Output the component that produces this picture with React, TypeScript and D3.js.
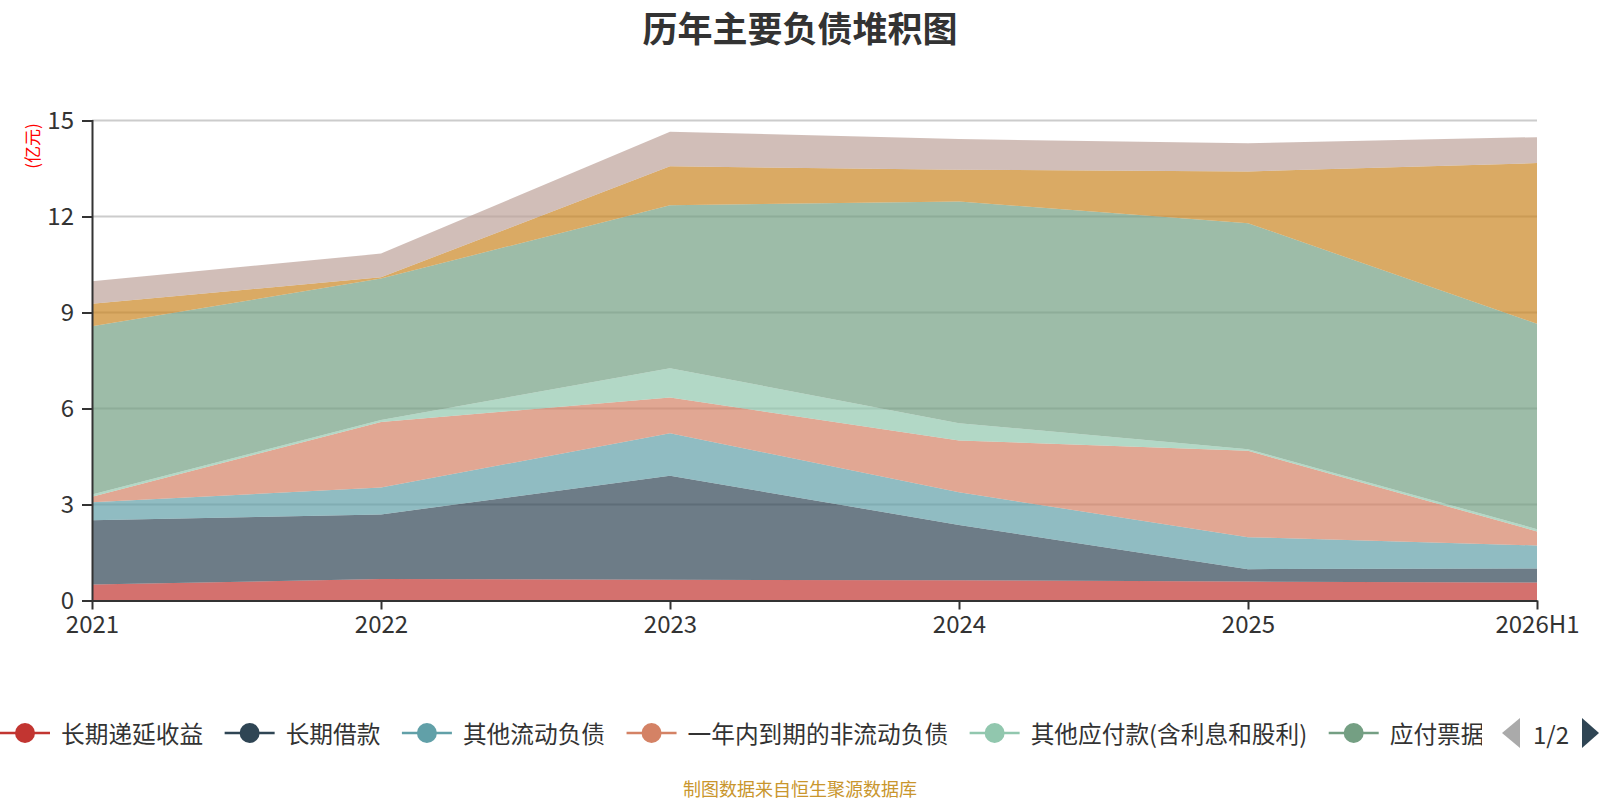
import * as d3 from 'd3';
import { useEffect, useRef } from 'react';

const years = ['2021', '2022', '2023', '2024', '2025', '2026H1'];

const seriesNames = [
    '长期递延收益',
    '长期借款',
    '其他流动负债',
    '一年内到期的非流动负债',
    '其他应付款(含利息和股利)',
    '应付票据及应付账款',
    '合同负债',
    '短期借款',
];

// 单位：亿元
const deferredIncome = [0.5, 0.67, 0.65, 0.63, 0.59, 0.56];
const longTermLoan = [2.01, 2.02, 3.25, 1.73, 0.39, 0.44];
const otherCurrent = [0.56, 0.84, 1.33, 1.02, 1.0, 0.72];
const dueWithinYear = [0.17, 2.05, 1.11, 1.62, 2.7, 0.44];
const otherPayables = [0.07, 0.06, 0.92, 0.54, 0.05, 0.07];
const notesPayable = [5.26, 4.42, 5.09, 6.93, 7.06, 6.42];
const contractLiab = [0.7, 0.04, 1.22, 0.99, 1.62, 5.02];
const shortTermLoan = [0.71, 0.74, 1.08, 0.96, 0.88, 0.81];

const seriesValues = [
    deferredIncome,
    longTermLoan,
    otherCurrent,
    dueWithinYear,
    otherPayables,
    notesPayable,
    contractLiab,
    shortTermLoan,
];

const yTicks = [0, 3, 6, 9, 12, 15];

const colors = ['#c23531', '#2f4554', '#61a0a8', '#d48265', '#91c7ae', '#749f83', '#ca8622', '#bda29a'];

const FONT = '"Noto Sans CJK SC", "Noto Sans", sans-serif';

export default function App() {
    const chartRef = useRef<SVGSVGElement | null>(null);

    useEffect(() => {
        if (!chartRef.current) return;
        const svg = d3.select(chartRef.current);
        svg.selectAll('*').remove();

        const width = 1600;
        const height = 800;
        const margin = { top: 120.5, right: 63, bottom: 199.5, left: 92 };

        const x = d3
            .scalePoint()
            .domain(years)
            .range([margin.left, width - margin.right]);

        const y = d3
            .scaleLinear()
            .domain([0, 15])
            .range([height - margin.bottom, margin.top]);

        // 堆积数据
        const table = years.map((yr, i) => {
            const row: Record<string, number | string> = { year: yr };
            seriesNames.forEach((n, k) => (row[n] = seriesValues[k][i]));
            return row;
        });
        const stacked = d3.stack<any>().keys(seriesNames)(table);

        // 网格线
        svg.append('g')
            .selectAll('line')
            .data(yTicks.filter((t) => t > 0))
            .join('line')
            .attr('x1', margin.left)
            .attr('x2', width - margin.right)
            .attr('y1', (d) => y(d))
            .attr('y2', (d) => y(d))
            .attr('stroke', '#cccccc')
            .attr('stroke-width', 2);

        const area = d3
            .area<any>()
            .x((d) => x(d.data.year)!)
            .y0((d) => y(d[0]))
            .y1((d) => y(d[1]));

        svg.append('g')
            .selectAll('path')
            .data(stacked)
            .join('path')
            .attr('d', area)
            .attr('fill', (_, i) => colors[i])
            .attr('fill-opacity', 0.7);

        // Y 轴
        svg.append('g')
            .attr('transform', `translate(${margin.left},0)`)
            .call(d3.axisLeft(y).tickValues(yTicks).tickSize(10).tickPadding(8).tickFormat(d3.format('d')))
            .call((g) => g.selectAll('.domain,line').attr('stroke', '#333').attr('stroke-width', 2))
            .call((g) => g.selectAll('text').attr('fill', '#333').style('font-size', '24px').style('font-family', FONT));

        // X 轴
        svg.append('g')
            .attr('transform', `translate(0,${height - margin.bottom})`)
            .call(d3.axisBottom(x).tickSizeInner(9).tickSizeOuter(0).tickPadding(6))
            .call((g) => g.selectAll('.domain,line').attr('stroke', '#333').attr('stroke-width', 2))
            .call((g) => g.selectAll('text').attr('fill', '#333').style('font-size', '24px').style('font-family', FONT));

        // 单位
        svg.append('text')
            .attr('transform', 'translate(31,146) rotate(-90)')
            .attr('text-anchor', 'middle')
            .attr('dominant-baseline', 'central')
            .attr('fill', '#ff0000')
            .style('font-size', '17px')
            .style('font-family', FONT)
            .text('(亿元)');

        // 标题
        svg.append('text')
            .attr('x', 800)
            .attr('y', 26)
            .attr('text-anchor', 'middle')
            .attr('dominant-baseline', 'central')
            .attr('fill', '#333')
            .style('font-size', '35px')
            .style('font-weight', 'bold')
            .style('font-family', FONT)
            .text('历年主要负债堆积图');

        // 图例（第一页）
        svg.append('defs')
            .append('clipPath')
            .attr('id', 'legend-clip')
            .append('rect')
            .attr('x', 0)
            .attr('y', 700)
            .attr('width', 1482)
            .attr('height', 70);

        const legend = svg.append('g').attr('clip-path', 'url(#legend-clip)');
        const ly = 733;
        let cx = 0;
        seriesNames.slice(0, 6).forEach((name, i) => {
            const item = legend.append('g').attr('transform', `translate(${cx},${ly})`);
            item.append('line').attr('x1', 0).attr('x2', 50).attr('stroke', colors[i]).attr('stroke-width', 2.5);
            item.append('circle').attr('cx', 25).attr('r', 10).attr('fill', colors[i]);
            const t = item
                .append('text')
                .attr('x', 61)
                .attr('dominant-baseline', 'central')
                .attr('fill', '#333')
                .style('font-size', '23.7px')
                .style('font-family', FONT)
                .text(name);
            const w = (t.node() as SVGTextElement).getComputedTextLength();
            cx += 61 + w + 21.5;
        });

        // 翻页
        const pager = svg.append('g').attr('transform', `translate(0,${ly})`);
        pager.append('path').attr('d', 'M1520,-15 L1502,0 L1520,15 Z').attr('fill', '#aaaaaa');
        pager.append('text')
            .attr('x', 1551)
            .attr('text-anchor', 'middle')
            .attr('dominant-baseline', 'central')
            .attr('fill', '#333')
            .style('font-size', '24px')
            .style('font-family', FONT)
            .text('1/2');
        pager.append('path').attr('d', 'M1582,-15 L1599,0 L1582,15 Z').attr('fill', '#2f4554');

        // 来源
        svg.append('text')
            .attr('x', 800)
            .attr('y', 788)
            .attr('text-anchor', 'middle')
            .attr('dominant-baseline', 'central')
            .attr('fill', '#c9962d')
            .style('font-size', '18px')
            .style('font-family', FONT)
            .text('制图数据来自恒生聚源数据库');
    }, []);

    return (
        <svg
            ref={chartRef}
            width={1600}
            height={800}
            viewBox="0 0 1600 800"
            style={{ position: 'absolute', left: 0, top: 0, background: '#fff' }}
        />
    );
}
